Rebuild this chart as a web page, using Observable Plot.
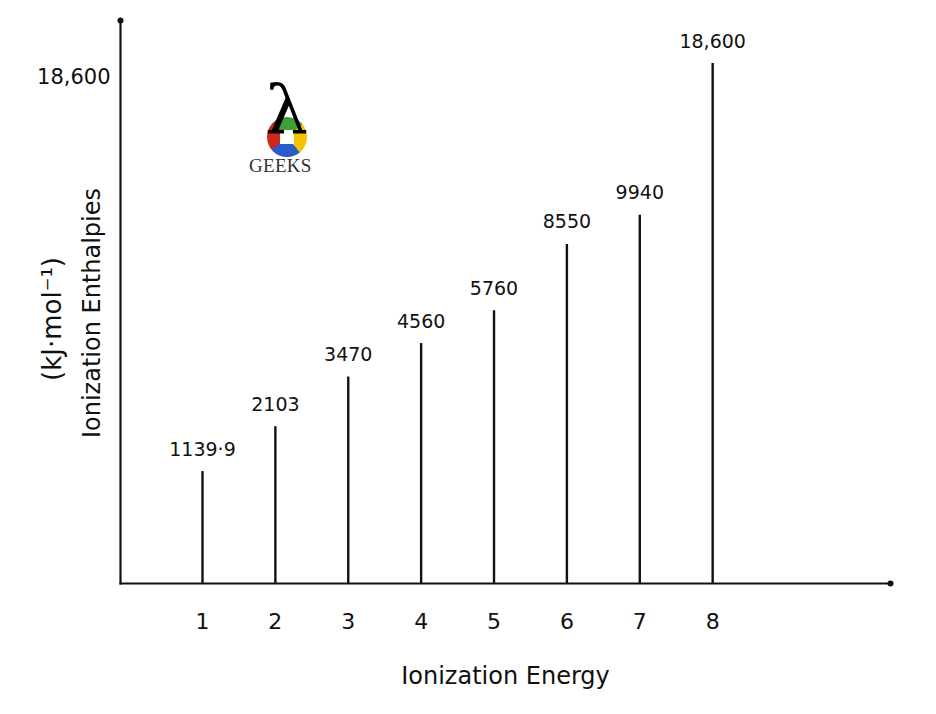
<!DOCTYPE html>
<html>
<head>
<meta charset="utf-8">
<script src="https://cdn.jsdelivr.net/npm/d3@7"></script>
<script src="https://cdn.jsdelivr.net/npm/@observablehq/plot@0.6"></script>
<style>
  html, body { margin: 0; padding: 0; background: #ffffff; }
  #wrap { position: relative; width: 936px; height: 714px; overflow: hidden; }
  #logo { position: absolute; left: 245px; top: 78px; width: 90px; height: 100px; pointer-events: none; }
  #logo .circ { position: absolute; left: 22px; top: 39px; width: 40px; height: 40px; border-radius: 50%;
    background: conic-gradient(#3f9e3a 0deg 50deg, #f4c300 50deg 140deg, #2a5bc9 140deg 230deg, #d3261b 230deg 320deg, #3f9e3a 320deg 360deg); }
  #logo .sq { position: absolute; left: 35px; top: 52px; width: 14px; height: 14px; background: #fff; }
  #logo .lam { position: absolute; left: 20px; top: -2px; font: 68px "DejaVu Serif", serif; color: #000; line-height: 1; }
  #logo .txt { position: absolute; left: 4px; top: 77px; font: 19px "Liberation Serif", serif; color: #333; letter-spacing: 0.3px; }
</style>
</head>
<body>
<div id="wrap"></div>
<script>
const ionization = [1, 2, 3, 4, 5, 6, 7, 8];
const enthalpy = [1139.9, 2103, 3470, 4560, 5760, 8550, 9940, 18600];
const valueLabels = ["1139·9", "2103", "3470", "4560", "5760", "8550", "9940", "18,600"];
const yTicks = [18600];
const xTitle = "Ionization Energy";
const yTitle = "Ionization Enthalpies";
const yUnit = "(kJ·mol⁻¹)";

const data = ionization.map((n, i) => ({n, v: enthalpy[i], label: valueLabels[i]}));
const font = "'DejaVu Sans', 'Open Sans', sans-serif";

const chart = Plot.plot({
  width: 936,
  height: 714,
  marginTop: 20,
  marginBottom: 131,
  marginLeft: 120,
  marginRight: 46,
  style: {fontFamily: font, background: "#ffffff", color: "#000"},
  x: {domain: [-0.125, 10.44], axis: null, label: null},
  y: {type: "pow", exponent: 0.55, domain: [0, 21500], axis: null, label: null},
  marks: [
    Plot.frame({anchor: "left", stroke: "#111", strokeWidth: 2.2}),
    Plot.frame({anchor: "bottom", stroke: "#111", strokeWidth: 2.2}),
    Plot.dot([0], {frameAnchor: "top-left", r: 3, fill: "#111", stroke: null}),
    Plot.dot([0], {frameAnchor: "bottom-right", r: 3, fill: "#111", stroke: null}),
    Plot.ruleX(data, {x: "n", y1: 0, y2: "v", stroke: "#111", strokeWidth: 2.4}),
    Plot.text(data, {x: "n", y: "v", text: "label", dy: -16, lineAnchor: "bottom", fontSize: 19, fill: "#111"}),
    Plot.axisX(ionization, {label: null, tickSize: 0, tickPadding: 30, fontSize: 22, tickFormat: d => String(d), fill: "#111"}),
    Plot.axisY(yTicks, {label: null, tickSize: 0, tickPadding: 10, fontSize: 21, dy: 14, tickFormat: d => d3.format(",")(d), fill: "#111"}),
    Plot.text([xTitle], {frameAnchor: "bottom", textAnchor: "middle", dy: 100, fontSize: 24, fill: "#111"}),
    Plot.text([yTitle], {frameAnchor: "left", textAnchor: "middle", dx: -28, dy: 11, rotate: -90, fontSize: 24, fill: "#111"}),
    Plot.text([yUnit], {frameAnchor: "left", textAnchor: "middle", dx: -68, dy: 17, rotate: -90, fontSize: 26, fill: "#111"})
  ]
});

const wrap = document.getElementById("wrap");
wrap.appendChild(chart);
const logo = document.createElement("div");
logo.id = "logo";
logo.innerHTML = '<div class="circ"></div><div class="sq"></div><div class="lam">λ</div><div class="txt">GEEKS</div>';
wrap.appendChild(logo);
</script>
</body>
</html>
